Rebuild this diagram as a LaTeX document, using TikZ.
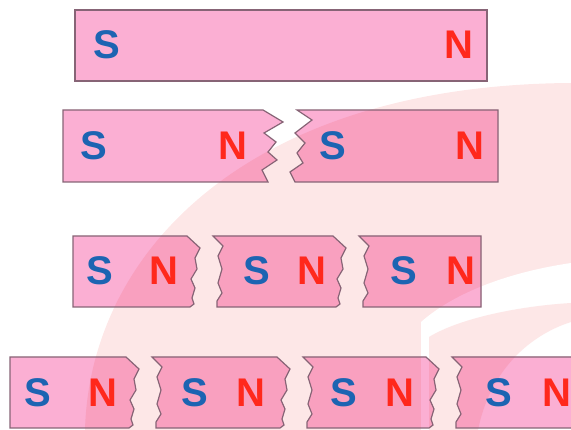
\documentclass[tikz,border=0pt]{standalone}
\usepackage{fontspec}
\newfontfamily\poli{Liberation Sans}
\usepackage{xcolor}
\definecolor{rosa}{RGB}{251,175,211}
\definecolor{rosascuro}{RGB}{249,160,191}
\definecolor{bordo}{RGB}{135,100,118}
\definecolor{blupolo}{RGB}{28,100,178}
\definecolor{rossopolo}{RGB}{255,40,28}
\definecolor{filigrana}{RGB}{253,231,231}
\tikzset{
  contorno/.style={draw=bordo, line width=1.2pt, line join=miter},
  polo/.style={font=\poli\bfseries\fontsize{40}{40}\selectfont, inner sep=0pt},
  polo s/.style={polo, text=blupolo},
  polo n/.style={polo, text=rossopolo}
}
% frattura: bordo destro (dall'alto) e bordo sinistro (dal basso)
\newcommand{\rotturadx}{-- ++(13,12) -- ++(-5,10) -- ++(2,11) -- ++(-6,10) -- ++(4,9) -- ++(-3,10) -- ++(2,6) -- ++(-4,3)}
\newcommand{\rotturasx}{-- ++(0,-6) -- ++(5,-8) -- ++(-4,-10) -- ++(4,-14) -- ++(-4,-13) -- ++(5,-10) -- ++(-10,-10)}
% pezzi di magnete
\newcommand{\magUno}{(75,10) rectangle (487,81)}
\newcommand{\magDueA}{(63,110) -- (263,110) -- (283,122) -- (264,133) -- (276,142) -- (268,152)
    -- (277,160) -- (262,170) -- (268,182) -- (63,182) -- cycle}
\newcommand{\magDueB}{(297,110) -- (498,110) -- (498,182) -- (295,182) -- (290,172) -- (303,163)
    -- (297,153) -- (305,143) -- (295,133) -- (312,120) -- cycle}
\newcommand{\magTreA}{(73,236) -- (187,236) \rotturadx -- (73,307) -- cycle}
\newcommand{\magTreB}{(213,236) -- (333,236) \rotturadx -- (217,307) \rotturasx -- cycle}
\newcommand{\magTreC}{(359,236) -- (481,236) -- (481,307) -- (363,307) \rotturasx -- cycle}
\newcommand{\magQuattroA}{(10,357) -- (126,357) \rotturadx -- (10,428) -- cycle}
\newcommand{\magQuattroB}{(152,357) -- (277,357) \rotturadx -- (156,428) \rotturasx -- cycle}
\newcommand{\magQuattroC}{(303,357) -- (426,357) \rotturadx -- (307,428) \rotturasx -- cycle}
\newcommand{\magQuattroD}{(452,357) -- (580,357) -- (580,428) -- (456,428) \rotturasx -- cycle}
\newcommand{\tuttiPezzi}{\magUno,\magDueA,\magDueB,\magTreA,\magTreB,\magTreC,\magQuattroA,\magQuattroB,\magQuattroC,\magQuattroD}
% filigrana
\newcommand{\filEsterna}{(85,430) .. controls (90,250) and (250,85) .. (571,83) -- (571,430) -- cycle}
\newcommand{\filBianca}{(571,263) .. controls (510,272) and (455,292) .. (421,322) -- (421,430) -- (571,430) -- cycle}
\newcommand{\filInterna}{(429,337) .. controls (460,318) and (520,306) .. (571,303) -- (571,322)
    .. controls (530,335) and (490,370) .. (478,430) -- (429,430) -- cycle}
\begin{document}
\begin{tikzpicture}[x=1pt, y=-1pt]
  \useasboundingbox (0,0) rectangle (571,430);
  \clip (0,0) rectangle (571,430);
  % Filigrana sullo sfondo
  \fill[filigrana] \filEsterna;
  \fill[white] \filBianca;
  \fill[filigrana] \filInterna;
  % Magneti: chiari fuori dalla filigrana, scuri dentro
  \foreach \p in \tuttiPezzi {\fill[rosa] \p;}
  \begin{scope}
    \clip \filEsterna;
    \foreach \p in \tuttiPezzi {\fill[rosascuro] \p;}
  \end{scope}
  \begin{scope}
    \clip \filBianca;
    \foreach \p in \tuttiPezzi {\fill[rosa] \p;}
  \end{scope}
  \begin{scope}
    \clip \filInterna;
    \foreach \p in \tuttiPezzi {\fill[rosascuro] \p;}
  \end{scope}
  \foreach \p in \tuttiPezzi {\path[contorno] \p;}
  % Poli
  \node[polo s] (s1) at (107,45) {S};
  \node[polo n] (n1) at (459,45) {N};
  \foreach \x [count=\i] in {94,333} \node[polo s] (s2-\i) at (\x,146) {S};
  \foreach \x [count=\i] in {233,470} \node[polo n] (n2-\i) at (\x,146) {N};
  \foreach \x [count=\i] in {100,257,404} \node[polo s] (s3-\i) at (\x,271) {S};
  \foreach \x [count=\i] in {164,312,461} \node[polo n] (n3-\i) at (\x,271) {N};
  \foreach \x [count=\i] in {38,195,344,499} \node[polo s] (s4-\i) at (\x,393) {S};
  \foreach \x [count=\i] in {103,251,400,557} \node[polo n] (n4-\i) at (\x,393) {N};
\end{tikzpicture}
\end{document}
